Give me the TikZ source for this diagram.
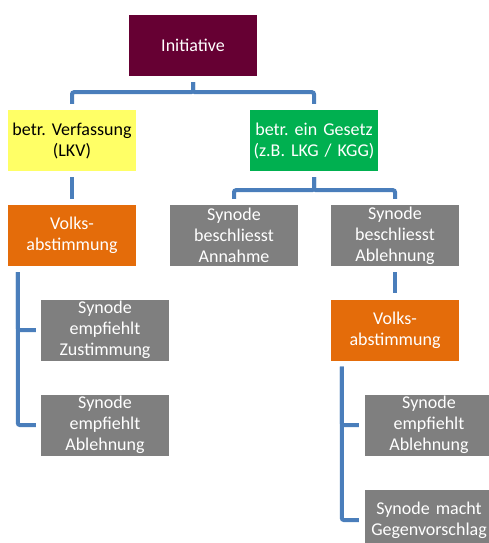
\documentclass[tikz,border=0pt]{standalone}
\usepackage{fontspec}
\setmainfont{Carlito}
\definecolor{maroon}{HTML}{660033}
\definecolor{lyellow}{HTML}{FFFF66}
\definecolor{lgreen}{HTML}{00B050}
\definecolor{lorange}{HTML}{E46C0A}
\definecolor{lgray}{HTML}{7F7F7F}
\definecolor{lineblue}{HTML}{4A7EBB}
\tikzset{
  box/.style={minimum width=128pt, minimum height=61pt, inner sep=0pt, text width=128pt, align=center,
    font=\fontsize{18pt}{21pt}\selectfont\frenchspacing, text=white},
  conn/.style={draw=lineblue, line width=4pt, rounded corners=2pt}
}
\begin{document}
\begin{tikzpicture}[x=1pt,y=-1pt]
\useasboundingbox (0,0) rectangle (488,543);
\node[box, fill=maroon] (init) at (193,45.5) {Initiative};
\node[box, fill=lyellow, text=black] (lkv) at (72,140.5) {betr. Verfassung\\(LKV)};
\node[box, fill=lgreen] (ges) at (314,140.5) {betr. ein Gesetz\\(z.B. LKG / KGG)};
\node[box, fill=lorange] (volks1) at (72,235.5) {Volks-\\abstimmung};
\node[box, fill=lgray] (annahme) at (234,235.5) {Synode\\beschliesst\\Annahme};
\node[box, fill=lgray] (ablehn) at (395,235.5) {Synode\\beschliesst\\Ablehnung};
\node[box, fill=lgray] (zust) at (105,330) {Synode\\empfiehlt\\Zustimmung};
\node[box, fill=lgray] (abl1) at (105,425) {Synode\\empfiehlt\\Ablehnung};
\node[box, fill=lorange] (volks2) at (395,330) {Volks-\\abstimmung};
\node[box, fill=lgray] (abl2) at (429,425) {Synode\\empfiehlt\\Ablehnung};
\node[box, fill=lgray] (gegen) at (429,520) {Synode macht\\Gegenvorschlag};
% connectors
\draw[conn] ([yshift=-6pt]init.south) -- ++(0,10) -| ([yshift=6pt]lkv.north);
\draw[conn] ([yshift=-6pt]init.south) -- ++(0,10) -| ([yshift=6pt]ges.north);
\draw[conn] ([yshift=-6pt]lkv.south) -- ([yshift=6pt]volks1.north);
\draw[conn] ([yshift=-6pt]ges.south) -- ++(0,13) -| ([yshift=6pt]annahme.north);
\draw[conn] ([yshift=-6pt]ges.south) -- ++(0,13) -| ([yshift=6pt]ablehn.north);
\draw[conn] ([yshift=-6pt]ablehn.south) -- ([yshift=6pt]volks2.north);
\draw[conn] ([xshift=10pt,yshift=-6pt]volks1.south west) |- ([xshift=-5pt]zust.west);
\draw[conn] ([xshift=10pt,yshift=-6pt]volks1.south west) |- ([xshift=-5pt]abl1.west);
\draw[conn] ([xshift=11pt,yshift=-6pt]volks2.south west) |- ([xshift=-6pt]abl2.west);
\draw[conn] ([xshift=11pt,yshift=-6pt]volks2.south west) |- ([xshift=-6pt]gegen.west);
\end{tikzpicture}
\end{document}
